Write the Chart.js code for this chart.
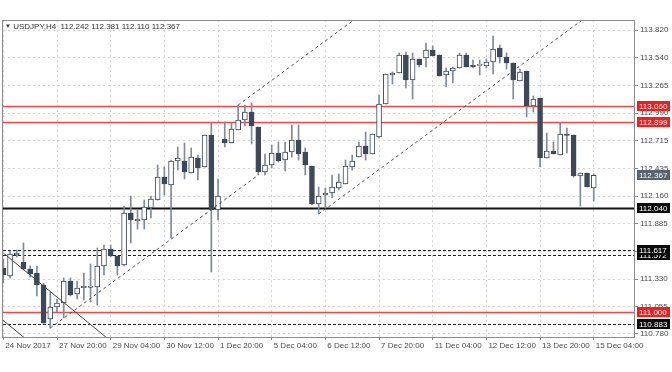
<!DOCTYPE html>
<html>
<head>
<meta charset="utf-8">
<script src="https://cdn.jsdelivr.net/npm/chart.js@4/dist/chart.umd.min.js"></script>
<style>
html, body { margin: 0; padding: 0; background: #fff; }
#wrap { position: relative; width: 672px; height: 372px; }
#title { position: absolute; left: 5px; top: 22px; font: 8px "Liberation Sans", Arial, sans-serif; color: #333; white-space: pre; }
#title span { font-size: 6px; position: relative; top: -1px; }
</style>
</head>
<body>
<div id="wrap">
  <canvas id="c" width="672" height="372"></canvas>
  <div id="title"></div>
</div>
<script>
// USDJPY H4, 24 Nov 2017 12:00 .. 15 Dec 2017 04:00 (one entry per bar)
const tickLabels = ['24 Nov 2017', '27 Nov 20:00', '29 Nov 04:00', '30 Nov 12:00', '1 Dec 20:00', '5 Dec 04:00',
  '6 Dec 12:00', '7 Dec 20:00', '11 Dec 04:00', '12 Dec 12:00', '13 Dec 20:00', '15 Dec 04:00'];

const opens = [111.44, 111.36, 111.57, 111.50, 111.43, 111.39, 111.27, 110.93, 111.05, 111.09,
  111.31, 111.18, 111.245, 111.25, 111.25, 111.46, 111.63, 111.56, 111.47, 111.99,
  111.91, 111.92, 112.04, 112.12, 112.35, 112.27, 112.51, 112.51, 112.39, 112.54,
  112.45, 112.77, 112.02, 112.73, 112.69, 112.82, 112.92, 113.00, 112.85, 112.40,
  112.47, 112.59, 112.52, 112.60, 112.72, 112.60, 112.46, 112.08, 112.17, 112.19,
  112.24, 112.28, 112.45, 112.55, 112.66, 112.58, 112.75, 113.08, 113.37, 113.39,
  113.57, 113.32, 113.53, 113.54, 113.62, 113.57, 113.37, 113.41, 113.44, 113.57,
  113.463, 113.47, 113.46, 113.50, 113.64, 113.55, 113.49, 113.31, 113.41, 113.06,
  113.14, 112.54, 112.61, 112.57, 112.775, 112.77, 112.36, 112.39, 112.242];
const highs = [111.53, 111.61, 111.62, 111.69, 111.46, 111.46, 111.29, 111.20, 111.13, 111.34,
  111.34, 111.31, 111.39, 111.48, 111.64, 111.67, 111.67, 111.56, 112.06, 112.16,
  112.02, 112.12, 112.16, 112.47, 112.45, 112.52, 112.65, 112.69, 112.64, 112.57,
  112.77, 112.89, 112.33, 112.90, 112.89, 113.07, 113.07, 113.09, 112.85, 112.58,
  112.67, 112.70, 112.70, 112.87, 112.87, 112.64, 112.46, 112.25, 112.24, 112.37,
  112.38, 112.52, 112.57, 112.70, 112.80, 112.78, 113.17, 113.38, 113.40, 113.59,
  113.60, 113.59, 113.53, 113.69, 113.66, 113.57, 113.44, 113.45, 113.59, 113.59,
  113.52, 113.52, 113.53, 113.76, 113.67, 113.59, 113.49, 113.43, 113.41, 113.16,
  113.14, 112.79, 112.70, 112.89, 112.84, 112.77, 112.39, 112.39, 112.381];
const lows = [111.29, 111.34, 111.55, 111.42, 111.35, 111.16, 110.88, 110.84, 111.00, 110.94,
  111.16, 111.13, 111.12, 111.10, 111.07, 111.37, 111.55, 111.37, 111.46, 111.69,
  111.83, 111.83, 111.94, 112.12, 112.17, 111.74, 112.42, 112.33, 112.39, 112.32,
  112.45, 111.40, 111.92, 112.65, 112.69, 112.82, 112.86, 112.68, 112.37, 112.37,
  112.44, 112.50, 112.41, 112.55, 112.52, 112.37, 112.07, 111.98, 112.04, 112.14,
  112.22, 112.28, 112.42, 112.55, 112.52, 112.58, 112.74, 113.08, 113.28, 113.39,
  113.24, 113.13, 113.45, 113.45, 113.56, 113.36, 113.25, 113.29, 113.44, 113.45,
  113.44, 113.37, 113.44, 113.38, 113.49, 113.43, 113.13, 113.31, 112.95, 113.00,
  112.45, 112.54, 112.58, 112.57, 112.59, 112.35, 112.06, 112.25, 112.110];
const closes = [111.37, 111.58, 111.59, 111.43, 111.38, 111.27, 110.89, 111.05, 111.09, 111.31,
  111.17, 111.24, 111.255, 111.255, 111.46, 111.63, 111.56, 111.46, 111.99, 111.92,
  111.93, 112.05, 112.13, 112.35, 112.28, 112.51, 112.54, 112.40, 112.55, 112.44,
  112.77, 112.02, 112.16, 112.69, 112.83, 112.92, 113.00, 112.86, 112.40, 112.47,
  112.59, 112.51, 112.60, 112.72, 112.58, 112.47, 112.08, 112.16, 112.19, 112.25,
  112.30, 112.46, 112.51, 112.66, 112.58, 112.78, 113.08, 113.38, 113.39, 113.57,
  113.32, 113.53, 113.47, 113.62, 113.56, 113.36, 113.41, 113.44, 113.57, 113.45,
  113.458, 113.472, 113.50, 113.63, 113.55, 113.49, 113.32, 113.40, 113.06, 113.13,
  112.54, 112.61, 112.58, 112.78, 112.77, 112.36, 112.39, 112.25, 112.367];

const yTicks = [113.820, 113.540, 113.265, 112.990, 112.715, 112.435, 112.160, 111.885, 111.610, 111.330, 111.055, 110.780];

// horizontal levels drawn on the chart
const redLevels = [113.060, 112.899, 111.000];
const supportLevels = [112.040];
const dashedLevels = [111.572, 111.617, 110.883];

// trend lines as [bar, price] pairs
const channelLines = [
  [[7, 110.84], [38, 112.37]],
  [[35, 113.07], [95, 116.03]],
  [[47, 111.98], [95, 114.35]]
];
const downLines = [
  [[0, 111.59], [16, 110.71]],
  [[-1, 110.97], [5, 110.64]]
];

const FONT = '"Liberation Sans", Arial, sans-serif';
const BEAR = '#3d4958';
const WICK = '#7f8b98';

const last = opens.length - 1;
document.getElementById('title').innerHTML = '<span>▼</span> USDJPY,H4  ' +
  [opens[last], highs[last], lows[last], closes[last]].map(v => v.toFixed(3)).join(' ');

const bodies = opens.map((o, i) => {
  let lo = Math.min(o, closes[i]), hi = Math.max(o, closes[i]);
  if (hi - lo < 0.012) { const m = (hi + lo) / 2; lo = m - 0.006; hi = m + 0.006; }
  return {x: i, y: [lo, hi]};
});
const wicks = opens.map((o, i) => ({x: i, y: [lows[i], highs[i]]}));
const bodyFill = opens.map((o, i) => closes[i] >= o ? '#ffffff' : BEAR);

const lineSets = channelLines.map(l => ({
  type: 'line', data: l.map(p => ({x: p[0], y: p[1]})), borderColor: '#555', borderWidth: 1,
  borderDash: [3, 3], pointRadius: 0, fill: false, order: 0
})).concat(downLines.map(l => ({
  type: 'line', data: l.map(p => ({x: p[0], y: p[1]})), borderColor: '#444', borderWidth: 1,
  pointRadius: 0, fill: false, order: 0
})));

function hLine(ctx, a, y, color, width, dash) {
  ctx.save();
  ctx.beginPath();
  ctx.rect(a.left, a.top, a.right - a.left, a.bottom - a.top);
  ctx.clip();
  ctx.strokeStyle = color;
  ctx.lineWidth = width;
  ctx.setLineDash(dash);
  ctx.beginPath();
  ctx.moveTo(a.left, y);
  ctx.lineTo(a.right, y);
  ctx.stroke();
  ctx.restore();
}

function tag(ctx, a, y, value, color) {
  ctx.fillStyle = color;
  ctx.fillRect(a.right + 2, Math.round(y) - 5, 33, 10);
  ctx.fillStyle = '#fff';
  ctx.font = '8px ' + FONT;
  ctx.textAlign = 'left';
  ctx.textBaseline = 'middle';
  ctx.fillText(value.toFixed(3), a.right + 4, Math.round(y) + 0.5);
}

const levelsPlugin = {
  id: 'levels',
  beforeDatasetsDraw(chart) {
    const {ctx, chartArea: a, scales: {y}} = chart;
    redLevels.forEach(v => hLine(ctx, a, Math.round(y.getPixelForValue(v)) + 0.5, '#f04848', 1.5, []));
    supportLevels.forEach(v => hLine(ctx, a, Math.round(y.getPixelForValue(v)) + 0.5, '#111', 2, []));
    dashedLevels.forEach(v => hLine(ctx, a, Math.round(y.getPixelForValue(v)) + 0.5, '#222', 1, [3, 2]));
  },
  afterDraw(chart) {
    const {ctx, chartArea: a, scales: {y}} = chart;
    ctx.save();
    ctx.strokeStyle = '#8c8c8c';
    ctx.lineWidth = 1;
    ctx.strokeRect(a.left - 0.5, a.top + 0.5, a.right - a.left, a.bottom - a.top);
    redLevels.forEach(v => tag(ctx, a, y.getPixelForValue(v), v, '#f41c1c'));
    tag(ctx, a, y.getPixelForValue(closes[last]), closes[last], '#56636f');
    supportLevels.concat(dashedLevels).forEach(v => tag(ctx, a, y.getPixelForValue(v), v, '#0b0b0b'));
    ctx.restore();
  }
};

new Chart(document.getElementById('c'), {
  type: 'bar',
  data: {
    datasets: lineSets.concat([
      {data: bodies, backgroundColor: bodyFill, borderColor: BEAR, borderWidth: 1, borderSkipped: false,
        barThickness: 5, grouped: false, order: 1},
      {data: wicks, backgroundColor: WICK, borderWidth: 0, barThickness: 1, grouped: false, order: 2}
    ])
  },
  options: {
    responsive: false,
    animation: false,
    devicePixelRatio: 1,
    layout: {padding: {left: 3, top: 20, right: 0, bottom: 0}},
    plugins: {legend: {display: false}, tooltip: {enabled: false}},
    scales: {
      x: {
        type: 'linear', min: -0.05, max: 94.15, offset: false,
        grid: {color: '#d6d6d6', tickColor: '#8c8c8c', tickLength: 3, offset: false},
        border: {display: false, dash: [2, 3]},
        ticks: {
          align: 'start', labelOffset: 2, maxRotation: 0, autoSkip: false, padding: 1,
          color: '#4a4a4a', font: {family: FONT, size: 8},
          callback: v => tickLabels[v / 8]
        },
        afterBuildTicks: s => { s.ticks = tickLabels.map((t, i) => ({value: i * 8})); },
        afterFit: s => { s.height = 35; }
      },
      y: {
        position: 'right', min: 110.75, max: 113.92,
        grid: {color: '#d6d6d6', tickColor: '#8c8c8c', tickLength: 3},
        border: {display: false, dash: [2, 3]},
        ticks: {
          padding: 2, color: '#4a4a4a', font: {family: FONT, size: 8},
          callback: v => v.toFixed(3)
        },
        afterBuildTicks: s => { s.ticks = yTicks.map(v => ({value: v})); },
        afterFit: s => { s.width = 37; }
      }
    }
  },
  plugins: [levelsPlugin]
});
</script>
</body>
</html>
